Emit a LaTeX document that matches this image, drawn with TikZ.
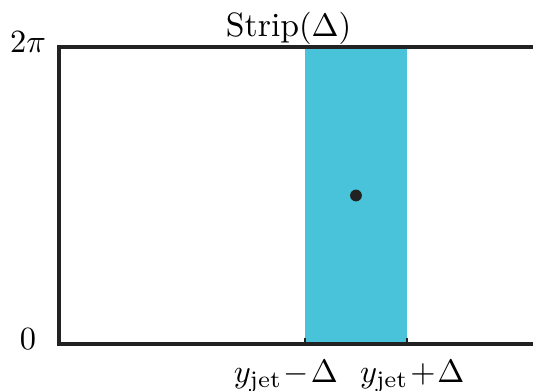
\documentclass[tikz,border=0pt]{standalone}
\usepackage{amsmath}
\usepackage{xcolor}
\usepackage{tikz}
\definecolor{stripcyan}{HTML}{48C3DA}
\definecolor{framegray}{HTML}{222222}

\begin{document}
\begin{tikzpicture}[every node/.style={font=\fontsize{10.4}{12.5}\selectfont}]
    \useasboundingbox (-0.64,-0.51) rectangle (5.14,3.73);
    \fill[stripcyan] (2.668,0) rectangle (3.774,3.22);
    \draw[line width=1.05pt,framegray] (5.2,3.22) -- (0,3.22) -- (0,0) -- (5.2,0);
    \draw[framegray,line width=0.5pt] (2.668,0) -- (2.668,0.06);
    \draw[framegray,line width=0.5pt] (3.774,0) -- (3.774,0.06);
    \fill[framegray] (3.22,1.61) circle (0.064);
    \node[anchor=base] (title) at (2.49,3.33) {Strip$(\Delta)$};
    \node[anchor=base] (top) at (-0.336,3.16) {$2\pi$};
    \node[anchor=base] (bot) at (-0.336,-0.065) {$0$};
    \node[anchor=base] (lo) at (2.46,-0.42) {$y_{\text{jet}}\mkern1mu{-}\mkern1mu\Delta$};
    \node[anchor=base] (hi) at (3.83,-0.42) {$y_{\text{jet}}\mkern1mu{+}\mkern1mu\Delta$};
\end{tikzpicture}
\end{document}
